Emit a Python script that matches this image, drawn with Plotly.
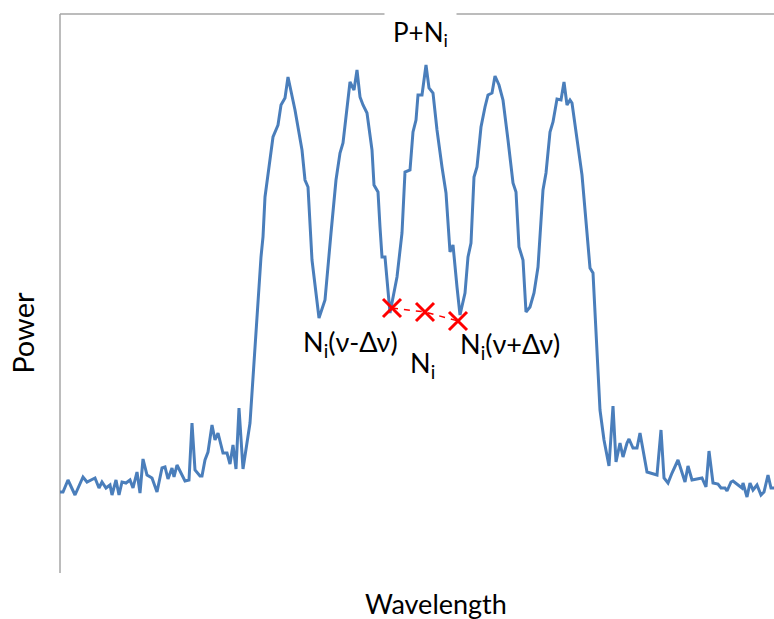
import plotly.graph_objects as go

# Spectrum trace (arbitrary units)
wavelength = [0, 3, 8, 15, 23, 27, 35, 39, 42, 46, 50, 52, 56, 59, 62, 66, 70, 73, 77, 80,
              83, 87, 92, 97, 102, 105, 108, 112, 114, 117, 125, 129, 132, 135, 140, 142, 145, 148, 152, 155,
              158, 163, 167, 170, 173, 176, 179, 183, 190, 193, 198, 201, 203, 205, 209, 213, 218, 221, 225, 228,
              235, 242, 245, 248, 252, 259, 265, 269, 271, 276, 280, 283, 287, 290, 294, 297, 300, 303, 307, 312,
              314, 318, 320, 322, 325, 327, 330, 337, 342, 345, 350, 353, 356, 358, 362, 366, 369, 373, 377, 382,
              386, 390, 393, 397, 400, 405, 408, 411, 414, 417, 421, 425, 428, 432, 435, 439, 443, 448, 453, 456,
              459, 463, 466, 470, 474, 478, 483, 486, 490, 493, 497, 501, 504, 507, 510, 512, 517, 522, 527, 530,
              533, 537, 540, 544, 549, 553, 556, 560, 563, 567, 569, 573, 577, 580, 587, 597, 601, 604, 608, 612,
              618, 625, 628, 632, 642, 646, 649, 653, 658, 661, 665, 667, 671, 673, 678, 682, 683, 687, 690, 693,
              697, 701, 704, 708, 711, 714]
power = [81, 81, 93, 78, 96, 91, 95, 85, 91, 85, 88, 78, 93, 78, 91, 90, 93, 85, 101, 80,
         114, 98, 95, 81, 105, 106, 94, 105, 96, 108, 92, 93, 150, 103, 97, 97, 113, 121, 148, 133,
         140, 120, 120, 109, 128, 104, 165, 104, 150, 196, 273, 316, 336, 376, 406, 436, 448, 468, 475, 496,
         463, 423, 393, 386, 313, 255, 273, 320, 340, 393, 420, 430, 463, 491, 483, 503, 476, 468, 460, 423,
         388, 381, 346, 316, 316, 296, 260, 296, 340, 401, 403, 441, 453, 478, 478, 508, 485, 480, 443, 406,
         380, 321, 328, 286, 258, 280, 316, 330, 396, 406, 446, 466, 478, 480, 497, 488, 473, 433, 390, 381,
         326, 313, 261, 266, 280, 306, 383, 400, 441, 451, 474, 473, 491, 468, 473, 470, 433, 398, 340, 305,
         300, 213, 163, 133, 107, 167, 111, 130, 116, 130, 134, 125, 125, 140, 101, 98, 143, 95, 90, 100,
         113, 91, 107, 93, 95, 86, 122, 90, 89, 85, 85, 82, 91, 92, 88, 85, 90, 76, 90, 83,
         88, 78, 81, 98, 85, 85]

# Noise-level markers
marker_wavelength = [332, 365, 398]
marker_power = [265, 261, 252]

# Labels
label_text = ["P+N<sub>i</sub>", "N<sub>i</sub>(\u03bd-\u0394\u03bd)", "N<sub>i</sub>", "N<sub>i</sub>(\u03bd+\u0394\u03bd)"]
label_wavelength = [360, 290, 362, 450]
label_power = [540, 230, 209, 228]

FONT = "Lato"
fig = go.Figure()
fig.add_trace(go.Scatter(x=wavelength, y=power, mode="lines",
                         line=dict(color="#4A7EBB", width=3), showlegend=False, hoverinfo="skip"))
fig.add_trace(go.Scatter(x=marker_wavelength, y=marker_power, mode="lines+markers",
                         line=dict(color="#FF0000", width=1.5, dash="6px,6px"),
                         marker=dict(symbol="x-thin-open", size=18, line=dict(color="#FF0000", width=3)),
                         showlegend=False, hoverinfo="skip"))

for i, (t, xw, yp) in enumerate(zip(label_text, label_wavelength, label_power)):
    fig.add_annotation(x=xw, y=yp, text=t, showarrow=False,
                       font=dict(family=FONT, size=27 if i else 26, color="black"),
                       bgcolor="white" if i == 0 else "rgba(0,0,0,0)",
                       borderpad=8 if i == 0 else 0)

fig.add_annotation(x=-0.053, y=0.43, xref="paper", yref="paper", text="Power", textangle=-90,
                   xanchor="center", yanchor="middle",
                   showarrow=False, font=dict(family=FONT, size=29, color="black"))
fig.add_annotation(x=0.527, y=-0.054, xref="paper", yref="paper", text="Wavelength",
                   xanchor="center", yanchor="middle",
                   showarrow=False, font=dict(family=FONT, size=27, color="black"))

# frame: left and top lines
fig.add_shape(type="line", xref="paper", yref="paper", x0=0, x1=0, y0=0, y1=1,
              line=dict(color="#A6A6A6", width=1.5), layer="below")
fig.add_shape(type="line", xref="paper", yref="paper", x0=0, x1=1, y0=1, y1=1,
              line=dict(color="#A6A6A6", width=1.5), layer="below")

fig.update_layout(
    width=774, height=619,
    margin=dict(l=60, r=0, t=14, b=46),
    paper_bgcolor="white", plot_bgcolor="white",
    xaxis=dict(range=[0, 714], showgrid=False, zeroline=False, showticklabels=False, showline=False),
    yaxis=dict(range=[0, 559], showgrid=False, zeroline=False, showticklabels=False, showline=False),
)
fig.write_html("out.html", config={"displayModeBar": False},
               post_script="document.body.style.margin='0';document.body.style.overflow='hidden';")
